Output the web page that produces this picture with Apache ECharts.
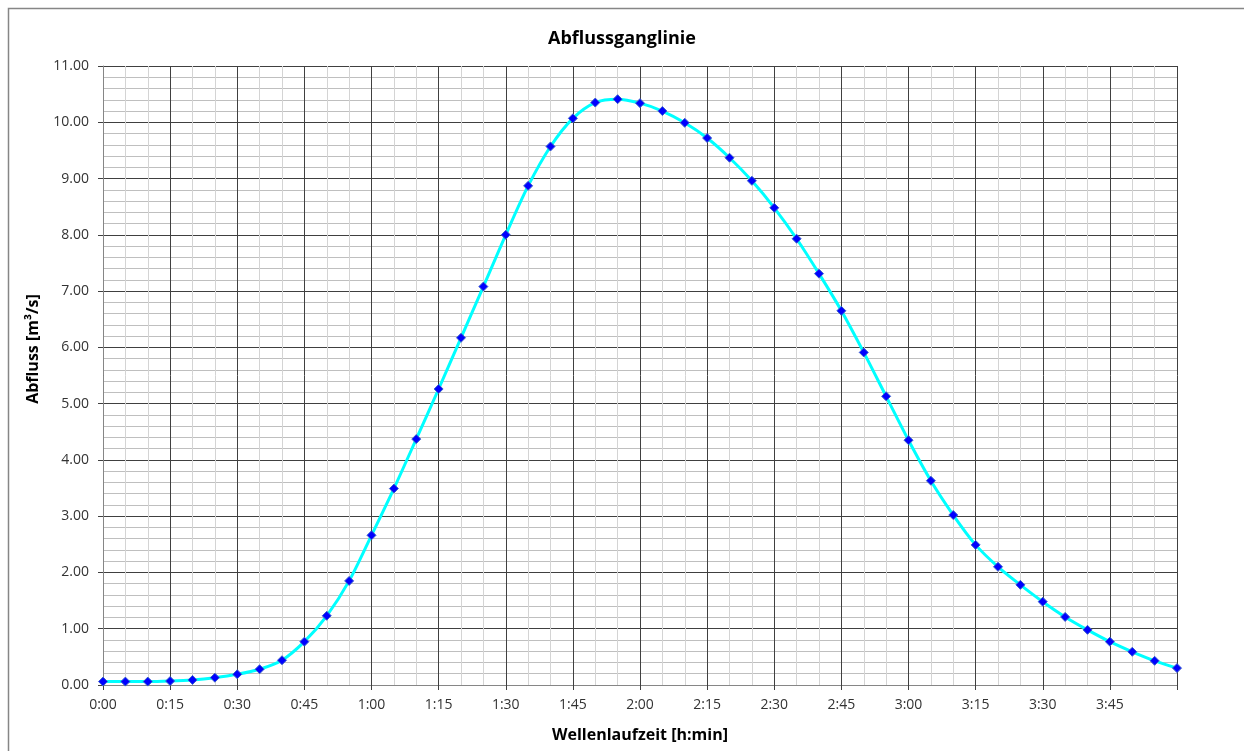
<!DOCTYPE html>
<html>
<head>
<meta charset="utf-8">
<title>Abflussganglinie</title>
<script src="https://cdn.jsdelivr.net/npm/echarts@6/dist/echarts.min.js"></script>
<style>
  html, body { margin: 0; padding: 0; background: #fff; }
  #container { width: 1244px; height: 751px; }
</style>
</head>
<body>
<div id="container"></div>
<script>
// Zeit in Minuten (alle 5 min)
var minutes = [0, 5, 10, 15, 20, 25, 30, 35, 40, 45, 50, 55,
  60, 65, 70, 75, 80, 85, 90, 95, 100, 105, 110, 115,
  120, 125, 130, 135, 140, 145, 150, 155, 160, 165, 170, 175,
  180, 185, 190, 195, 200, 205, 210, 215, 220, 225, 230, 235, 240];
// Abfluss [m3/s]
var abfluss = [0.06, 0.06, 0.06, 0.07, 0.09, 0.13, 0.19, 0.28, 0.44, 0.77, 1.23, 1.85,
  2.66, 3.49, 4.37, 5.26, 6.17, 7.08, 8.00, 8.87, 9.57, 10.07, 10.35, 10.41,
  10.34, 10.20, 9.99, 9.72, 9.37, 8.96, 8.48, 7.93, 7.31, 6.65, 5.91, 5.13,
  4.35, 3.63, 3.02, 2.49, 2.10, 1.78, 1.48, 1.21, 0.98, 0.77, 0.59, 0.43, 0.30];

var dom = document.getElementById('container');
var myChart = echarts.init(dom, null, { renderer: 'canvas' });

var seriesData = minutes.map(function (m, i) {
  return [m, abfluss[i]];
});

function fmtTime(v) {
  if (v >= 240) return '';
  var h = Math.floor(v / 60);
  var m = v % 60;
  return h + ':' + (m < 10 ? '0' + m : m);
}

var font = '"Open Sans", "Noto Sans", sans-serif';

var option = {
  backgroundColor: '#fff',
  animation: false,
  textStyle: { fontFamily: font },
  title: {
    text: 'Abflussganglinie',
    left: 'center',
    top: 25,
    textStyle: { fontSize: 18, fontWeight: 'bold', color: '#000', fontFamily: font }
  },
  graphic: [{
    type: 'rect',
    shape: { x: 8.5, y: 8.5, width: 1240, height: 750 },
    style: { fill: 'none', stroke: '#868686', lineWidth: 1.5 },
    silent: true
  }, {
    // y-Achsentitel (wie im Original etwas oberhalb der Mitte)
    type: 'text',
    x: 33,
    y: 349,
    rotation: Math.PI / 2,
    style: {
      text: 'Abfluss [m³/s]',
      fontSize: 16,
      fontWeight: 'bold',
      fontFamily: font,
      fill: '#000',
      align: 'center',
      verticalAlign: 'middle'
    },
    silent: true
  }],
  grid: { left: 103, right: 67, top: 66, bottom: 66 },
  xAxis: {
    type: 'value',
    min: 0,
    max: 240,
    interval: 15,
    name: 'Wellenlaufzeit [h:min]',
    nameLocation: 'middle',
    nameGap: 42,
    nameTextStyle: { fontSize: 16, fontWeight: 'bold', color: '#000', fontFamily: font },
    axisLine: { show: true, lineStyle: { color: '#868686', width: 1 } },
    axisTick: { show: true, length: 5, lineStyle: { color: '#404040' } },
    axisLabel: { formatter: fmtTime, fontSize: 14, color: '#333', margin: 13 },
    splitLine: { show: true, lineStyle: { color: '#404040', width: 1 } },
    minorTick: { show: false, splitNumber: 3 },
    minorSplitLine: { show: true, lineStyle: { color: '#d4d4d4', width: 1 } }
  },
  yAxis: {
    type: 'value',
    min: 0,
    max: 11,
    interval: 1,
    axisLine: { show: true, lineStyle: { color: '#868686', width: 1 } },
    axisTick: { show: true, length: 5, lineStyle: { color: '#404040' } },
    axisLabel: {
      formatter: function (v) { return v.toFixed(2); },
      fontSize: 14, color: '#333', margin: 14
    },
    splitLine: { show: true, lineStyle: { color: '#404040', width: 1 } },
    minorTick: { show: false, splitNumber: 5 },
    minorSplitLine: { show: true, lineStyle: { color: '#bfbfbf', width: 1 } }
  },
  series: [{
    type: 'line',
    data: seriesData,
    smooth: 0.3,
    symbol: 'diamond',
    symbolSize: 9,
    lineStyle: { color: '#00ffff', width: 3 },
    itemStyle: { color: '#0000ff', borderColor: '#3a5fcd', borderWidth: 1 },
    z: 5
  }]
};

myChart.setOption(option);

window.addEventListener('resize', function () {
  myChart.resize();
});
</script>
</body>
</html>
